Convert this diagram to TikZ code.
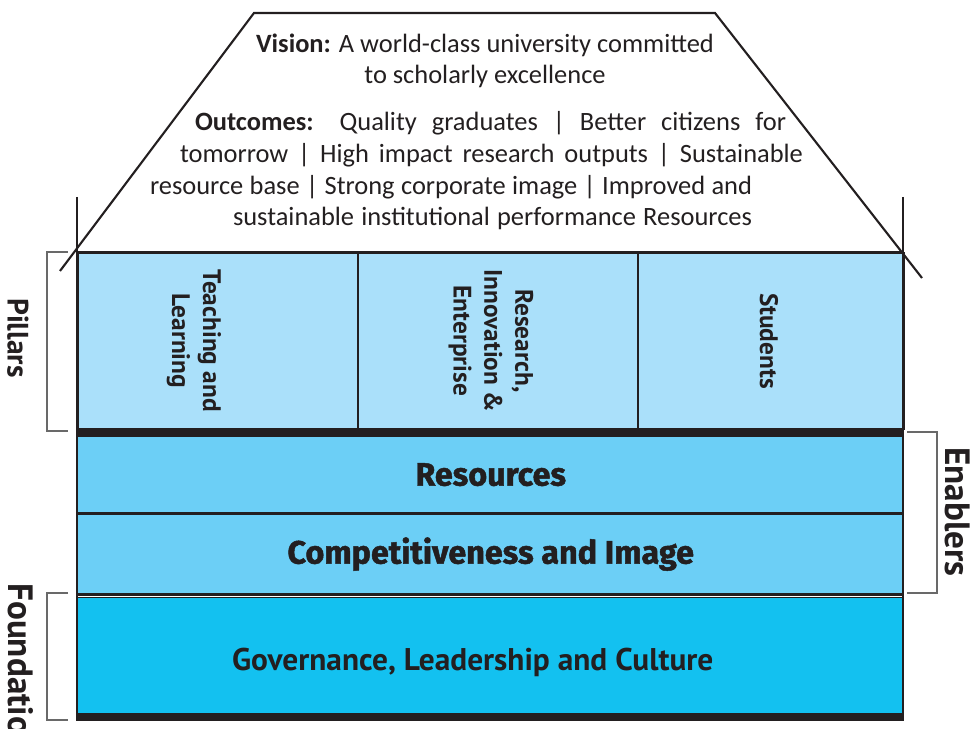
\documentclass[tikz,border=0pt]{standalone}
\usepackage{fontspec}
\setmainfont{Carlito}
\newfontfamily\labelfont{PT Sans}
\newfontfamily\bandfont{Fira Sans}[BoldFeatures={FakeBold=1.5}]
\definecolor{darkline}{RGB}{35, 31, 32}
\definecolor{pillarblue}{RGB}{170, 224, 250}
\definecolor{enablerblue}{RGB}{108, 207, 246}
\definecolor{foundblue}{RGB}{19, 193, 240}
\definecolor{brackgray}{RGB}{105, 105, 105}
\usetikzlibrary{positioning, calc}

\begin{document}
\begin{tikzpicture}[
  toptext/.style={font=\fontsize{18.8}{24}\selectfont, text=darkline, inner sep=0pt},
  cell/.style={draw=darkline, line width=1.3pt, fill=pillarblue, minimum height=4.4cm, inner sep=0pt, anchor=north west},
  piltext/.style={font=\labelfont\bfseries\fontsize{18}{22}\selectfont, text=darkline, rotate=-90, align=center},
  band/.style={draw=darkline, line width=1pt, minimum width=20.65cm, inner sep=0pt, text=darkline},
  sidelabel/.style={font=\labelfont\bfseries, text=darkline, rotate=-90, inner sep=0pt},
  bracket/.style={draw=brackgray, line width=0.8pt},
  frame/.style={draw=darkline, line width=1.5pt}
]
  \useasboundingbox (0, 0) rectangle (24.25, 18.225);

  % Roof with vision and outcomes
  \draw[frame] (1.5, 11.45) -- (6.35, 17.9) -- (17.875, 17.9) -- (23.05, 11.275);
  \node[toptext] (vis1) at (12.125, 17.1) {\textbf{Vision:} A world-class university committed};
  \node[toptext] (vis2) at (12.125, 16.325) {to scholarly excellence};
  \node[toptext] (out1) at (12.2625, 15.15) {\makebox[14.775cm][s]{\textbf{Outcomes:} Quality graduates | Better citizens for}};
  \node[toptext] (out2) at (12.2875, 14.35) {\makebox[15.575cm][s]{tomorrow | High impact research outputs | Sustainable}};
  \node[toptext] (out3) at (11.275, 13.55) {\makebox[15.05cm][s]{resource base | Strong corporate image | Improved and}};
  \node[toptext] (out4) at (12.3125, 12.775) {\makebox[12.975cm][s]{sustainable institutional performance Resources}};

  % Pillars
  \node[cell, minimum width=7cm] (cell1) at (1.925, 11.925) {};
  \node[cell, minimum width=7cm] (cell2) at (8.925, 11.925) {};
  \node[cell, minimum width=6.65cm] (cell3) at (15.925, 11.925) {};
  \node[piltext] (pil1) at ($(cell1.center)+(-0.6, 0)$) {Teaching and\\Learning};
  \node[piltext] (pil2) at ($(cell2.center)+(-0.175, 0)$) {Research,\\Innovation \&\\Enterprise};
  \node[piltext] (pil3) at ($(cell3.center)+(-0.05, 0)$) {Students};

  % Enablers and foundation
  \fill[darkline] (1.925, 7.525) rectangle (22.575, 7.325);
  \node[band, fill=enablerblue, minimum height=1.9cm, anchor=north west, font=\bandfont\bfseries\fontsize{23}{26}\selectfont] (res) at (1.925, 7.325) {Resources};
  \node[band, fill=enablerblue, minimum height=2cm, below=0pt of res, font=\bandfont\bfseries\fontsize{23}{26}\selectfont] (comp) {Competitiveness and Image};
  \node[band, fill=foundblue, minimum height=3cm, below=0.05cm of comp] (gov) {};
  \node[font=\labelfont\bfseries\fontsize{22.3}{27}\selectfont, text=darkline] (govtext) at ($(gov.center)+(-0.45, -0.125)$) {Governance, Leadership and Culture};
  \draw[darkline, line width=1.6pt] (comp.south west) -- (comp.south east);
  \fill[darkline] (1.925, 0.4) rectangle (22.575, 0.2);

  % Side walls
  \draw[frame, line width=2pt] (1.925, 13.3) -- (1.925, 0.2);
  \draw[frame, line width=2pt] (22.575, 13.3) -- (22.575, 0.2);
  \draw[frame] (1.925, 11.925) -- (22.575, 11.925);

  % Brackets and side labels
  \draw[bracket] (1.7, 11.925) -| (1.175, 7.45) -- (1.7, 7.45);
  \draw[bracket] (22.675, 7.425) -| (23.425, 3.4) -- (22.675, 3.4);
  \draw[bracket] (1.7, 3.4) -| (1.175, 0.225) -- (1.7, 0.225);
  \node[sidelabel, font=\labelfont\bfseries\fontsize{21}{25}\selectfont] (lpil) at (0.45, 9.775) {Pillars};
  \node[sidelabel, font=\labelfont\bfseries\fontsize{25}{30}\selectfont] (lenab) at (23.95, 5.425) {Enablers};
  \node[sidelabel, font=\labelfont\bfseries\fontsize{25}{30}\selectfont, anchor=south west] (lfound) at (0.2, 3.65) {Foundation};
\end{tikzpicture}
\end{document}
